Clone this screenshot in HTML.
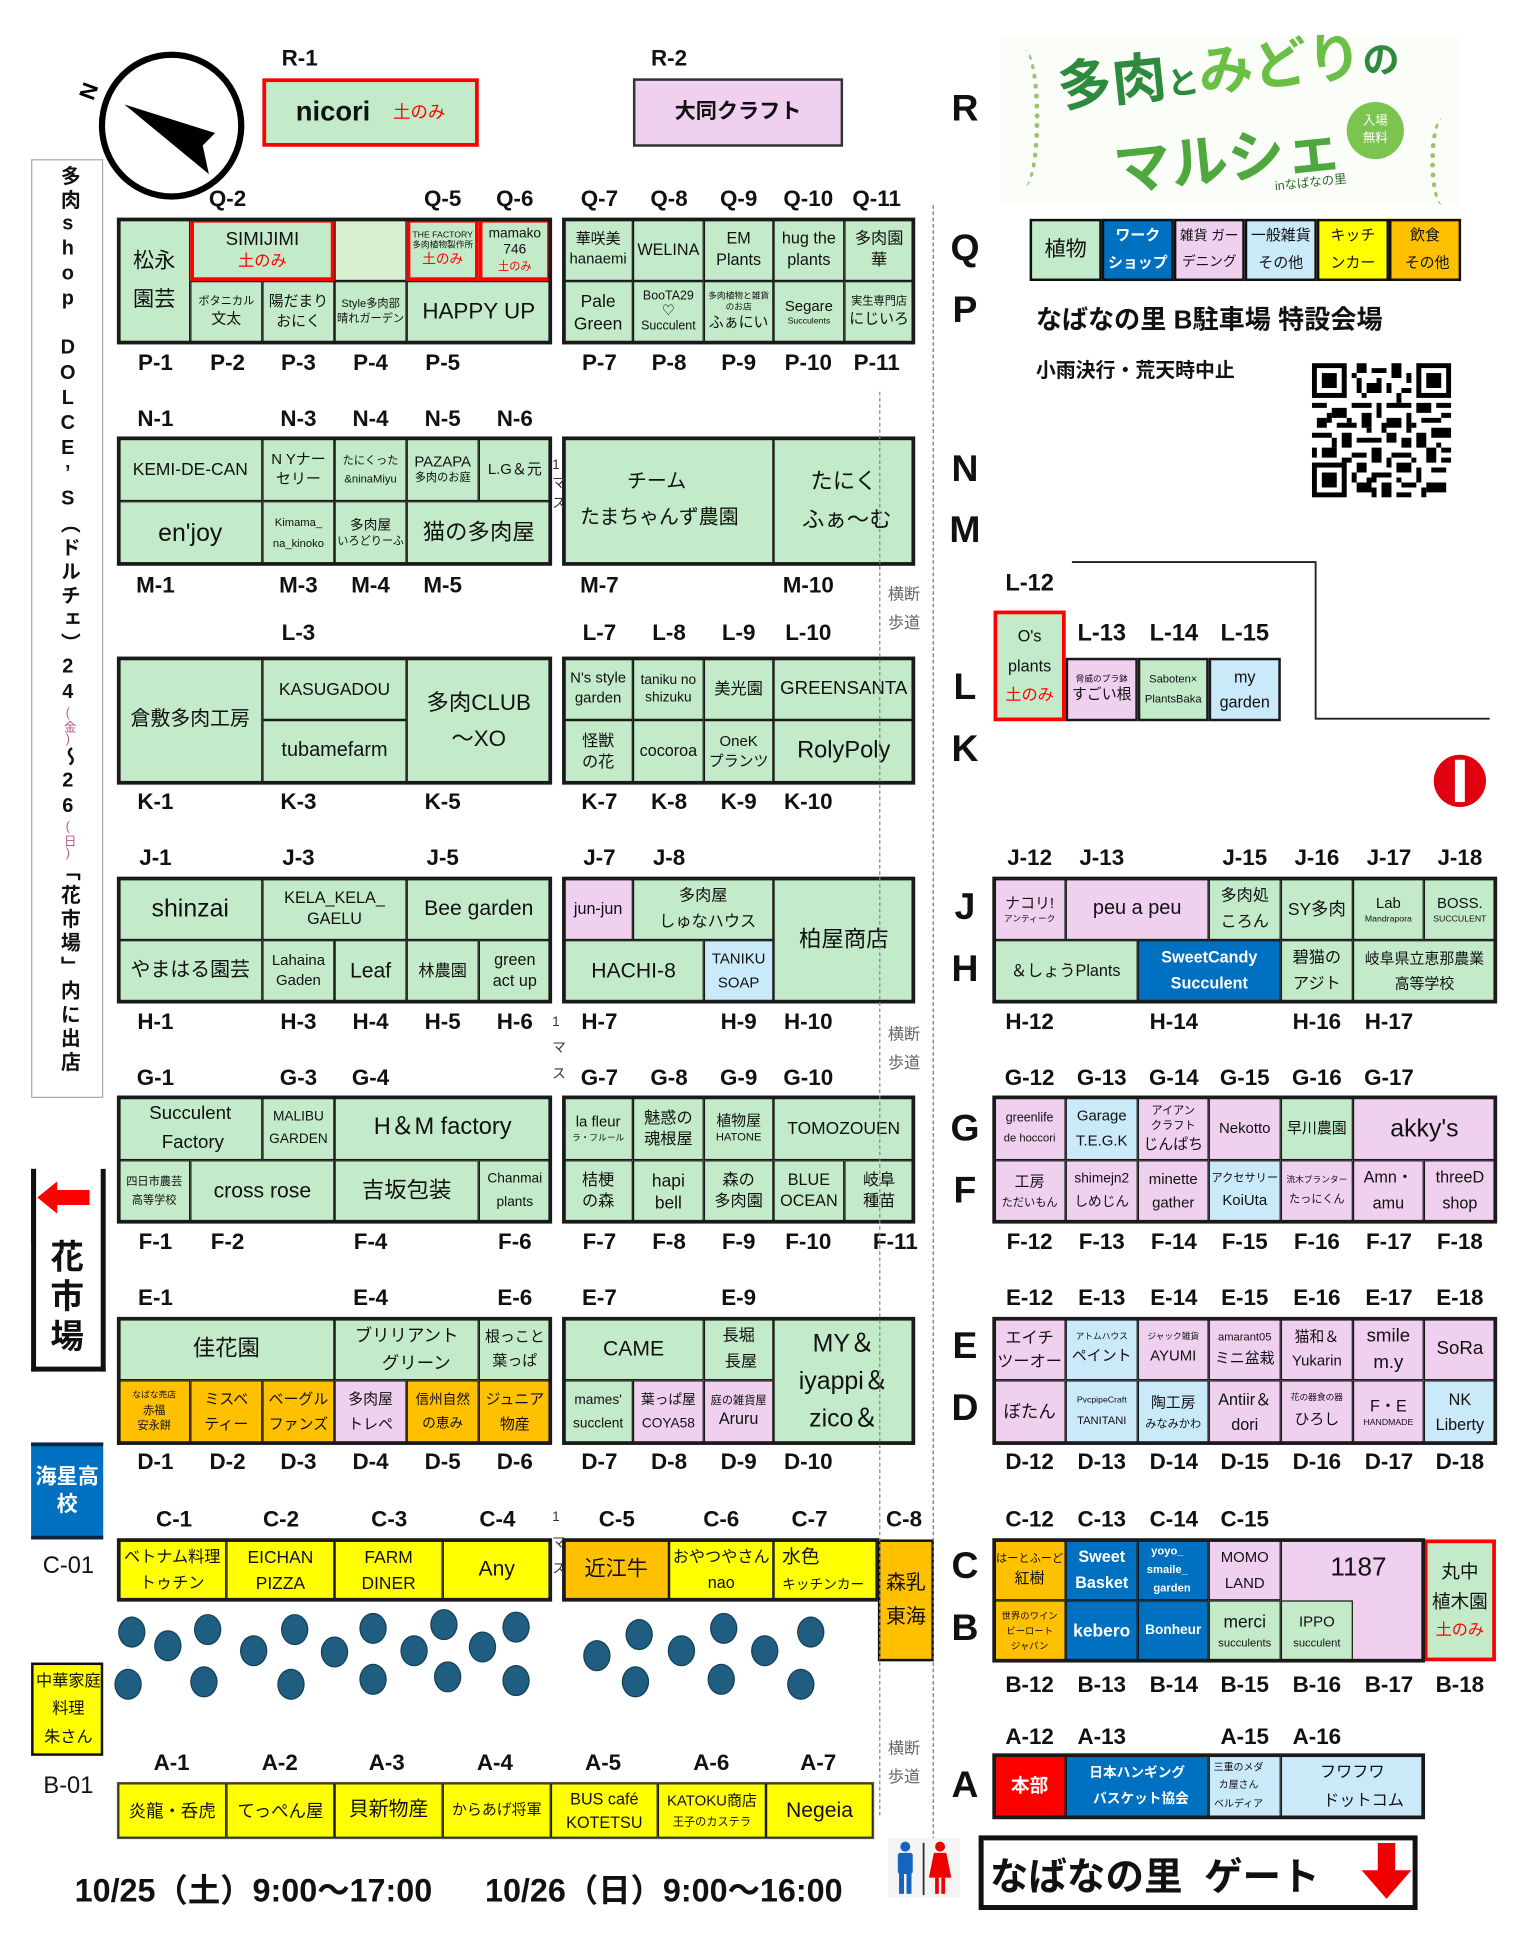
<!DOCTYPE html>
<html><head><meta charset="utf-8">
<style>
html,body{margin:0;padding:0;background:#fff;overflow:hidden;width:1532px;height:1954px}
#m{position:absolute;left:0;top:0;width:1232px;height:1572px;transform:scale(1.2435);transform-origin:0 0;font-family:"Liberation Sans","Noto Sans CJK JP",sans-serif;color:#111}
.c{position:absolute;box-sizing:border-box;border:1.5px solid #1a1a1a;display:flex;flex-direction:column;align-items:center;justify-content:center;text-align:center;line-height:1.3;font-size:14px;overflow:hidden;white-space:nowrap}
.g{background:#c3ebc9}.p{background:#f0d0ef}.b{background:#cae9f9}.u{background:#0070c0;color:#fff;font-weight:bold}.y{background:#ffff00}.o{background:#ffc000}.r{background:#ff0000;color:#fff;font-weight:bold}
.rb{border:3px solid #f00}
.blk{position:absolute;box-sizing:border-box;border:3px solid #1a1a1a}
.l{position:absolute;transform:translate(-50%,-50%);font-weight:bold;font-size:18px;white-space:nowrap}
.R{position:absolute;transform:translate(-50%,-50%);font-weight:bold;font-size:30px}
.s{font-size:9px}.s7{font-size:7px}.s11{font-size:11px}.s12{font-size:12px}
.red{color:#f00}
.b2{font-weight:bold}
.dot{position:absolute;width:22px;height:25px;border-radius:50%;background:#1f5e80;border:1px solid #153f57;box-sizing:border-box}
.gray{position:absolute;font-size:13px;color:#666;line-height:1.8}
.m1{position:absolute;font-size:11px;color:#333}
</style></head><body>
<div id="m">

<!-- compass -->
<svg style="position:absolute;left:60px;top:40px" width="140" height="125">
<ellipse cx="78" cy="61" rx="56" ry="57" fill="none" stroke="#000" stroke-width="5"/>
<polygon points="40,44 113,67 103,77 108,100" fill="#000"/>
<text x="4" y="38" font-size="18" font-weight="bold" font-family="Liberation Sans" transform="rotate(-70 12 32)">N</text>
</svg>

<!-- left vertical box -->
<div style="position:absolute;left:25px;top:128px;width:58px;height:755px;border:1px solid #aaa;box-sizing:border-box"></div>
<div style="position:absolute;left:40px;top:133px;writing-mode:vertical-rl;text-orientation:upright;font-size:16px;font-weight:bold;line-height:28px;letter-spacing:3.2px;white-space:nowrap">多肉shop　DOLCE’S（ドルチェ）24<span style="font-size:10px;font-weight:normal;color:#b58;letter-spacing:0">(金)</span>～26<span style="font-size:10px;font-weight:normal;color:#b58;letter-spacing:0">(日)</span>「花市場」内に出店</div>

<!-- 花市場 -->
<div style="position:absolute;left:25px;top:940px;width:60px;height:163px;border:4px solid #111;border-top:none;box-sizing:border-box"></div>
<div style="position:absolute;left:25px;top:940px;width:4px;height:60px;background:#111"></div>
<svg style="position:absolute;left:30px;top:948px" width="44" height="30"><polygon points="0,15 16,2 16,9 42,9 42,21 16,21 16,28" fill="#f00"/></svg>
<div style="position:absolute;left:36px;top:995px;width:36px;font-size:27px;font-weight:bold;line-height:32px;text-align:center">花<br>市<br>場</div>

<div class="c u" style="left:25px;top:1160px;width:58px;height:78px;font-size:17px;border:none;border-top:3px solid #124;border-bottom:3px solid #124">海星高<br>校</div>
<div class="l" style="left:55px;top:1260px;font-weight:normal;font-size:19px">C-01</div>
<div class="c y" style="left:25px;top:1337px;width:58px;height:75px;font-size:13px;align-items:flex-start;border:2px solid #111;padding-left:2px;line-height:1.7">中華家庭<br>料理<br>朱さん</div>
<div class="l" style="left:55px;top:1437px;font-weight:normal;font-size:19px">B-01</div>

<!-- R -->
<div class="l" style="left:241px;top:47px">R-1</div>
<div class="l" style="left:538px;top:47px">R-2</div>
<div class="c g" style="left:211px;top:63px;width:174px;height:55px;border:3px solid #f00;font-size:22px;flex-direction:row"><span class="b2">nicori</span>&nbsp;&nbsp;&nbsp;<span class="red" style="font-size:14px">土のみ</span></div>
<div class="c p" style="left:509px;top:63px;width:169px;height:55px;border:2px solid #333;font-size:17px"><span class="b2">大同クラフト</span></div>

<!-- Q/P left -->
<div class="l" style="left:183px;top:160px">Q-2</div><div class="l" style="left:356px;top:160px">Q-5</div><div class="l" style="left:414px;top:160px">Q-6</div>
<div class="c g" style="left:95px;top:176px;width:58px;height:100px;font-size:17px;line-height:1.8">松永<br>園芸</div>
<div class="c g rb" style="left:153px;top:176px;width:116px;height:50px;font-size:15px">SIMIJIMI<span class="red" style="font-size:13px">土のみ</span></div>
<div class="c" style="left:269px;top:176px;width:58px;height:50px;background:#d8f0d2"></div>
<div class="c g rb" style="left:327px;top:176px;width:58px;height:50px;line-height:1.2"><span class="s7">THE FACTORY</span><span class="s7">多肉植物製作所</span><span class="red s11">土のみ</span></div>
<div class="c g rb" style="left:385px;top:176px;width:58px;height:50px;font-size:11px;line-height:1.25">mamako<span>746</span><span class="red" style="font-size:9px">土のみ</span></div>
<div class="c g" style="left:153px;top:226px;width:58px;height:50px"><span class="s">ボタニカル</span><span class="s12">文太</span></div>
<div class="c g" style="left:211px;top:226px;width:58px;height:50px;font-size:12px">陽だまり<br>おにく</div>
<div class="c g" style="left:269px;top:226px;width:58px;height:50px;font-size:9px">Style多肉部<br>晴れガーデン</div>
<div class="c g" style="left:327px;top:226px;width:116px;height:50px;font-size:18px">HAPPY UP</div>
<div class="blk" style="left:94px;top:175px;width:350px;height:102px"></div>
<div class="l" style="left:125px;top:292px">P-1</div><div class="l" style="left:183px;top:292px">P-2</div><div class="l" style="left:240px;top:292px">P-3</div><div class="l" style="left:298px;top:292px">P-4</div><div class="l" style="left:356px;top:292px">P-5</div>

<!-- Q/P right -->
<div class="l" style="left:482px;top:160px">Q-7</div><div class="l" style="left:538px;top:160px">Q-8</div><div class="l" style="left:594px;top:160px">Q-9</div><div class="l" style="left:650px;top:160px">Q-10</div><div class="l" style="left:705px;top:160px">Q-11</div>
<div class="c g" style="left:453px;top:176px;width:56px;height:50px;font-size:12px">華咲美<br>hanaemi</div>
<div class="c g" style="left:509px;top:176px;width:57px;height:50px;font-size:13px">WELINA</div>
<div class="c g" style="left:566px;top:176px;width:56px;height:50px;font-size:13px">EM<br>Plants</div>
<div class="c g" style="left:622px;top:176px;width:57px;height:50px;font-size:13px">hug the<br>plants</div>
<div class="c g" style="left:679px;top:176px;width:56px;height:50px;font-size:13px">多肉園<br>華</div>
<div class="c g" style="left:453px;top:226px;width:56px;height:50px;font-size:14px">Pale<br>Green</div>
<div class="c g" style="left:509px;top:226px;width:57px;height:50px;font-size:10px;line-height:1.2">BooTA29<br>♡<br>Succulent</div>
<div class="c g" style="left:566px;top:226px;width:56px;height:50px;line-height:1.2"><span class="s7">多肉植物と雑貨</span><span class="s7">のお店</span><span class="s12">ふぁにい</span></div>
<div class="c g" style="left:622px;top:226px;width:57px;height:50px"><span class="s12">Segare</span><span class="s7">Succulents</span></div>
<div class="c g" style="left:679px;top:226px;width:56px;height:50px"><span class="s">実生専門店</span><span class="s12">にじいろ</span></div>
<div class="blk" style="left:452px;top:175px;width:284px;height:102px"></div>
<div class="l" style="left:482px;top:292px">P-7</div><div class="l" style="left:538px;top:292px">P-8</div><div class="l" style="left:594px;top:292px">P-9</div><div class="l" style="left:650px;top:292px">P-10</div><div class="l" style="left:705px;top:292px">P-11</div>

<!-- N/M -->
<div class="l" style="left:125px;top:337px">N-1</div><div class="l" style="left:240px;top:337px">N-3</div><div class="l" style="left:298px;top:337px">N-4</div><div class="l" style="left:356px;top:337px">N-5</div><div class="l" style="left:414px;top:337px">N-6</div>
<div class="c g" style="left:95px;top:352px;width:116px;height:51px;font-size:14px">KEMI-DE-CAN</div>
<div class="c g" style="left:211px;top:352px;width:58px;height:51px;font-size:12px">N Yナー<br>セリー</div>
<div class="c g" style="left:269px;top:352px;width:58px;height:51px;font-size:9px;line-height:1.6">たにくった<br>&amp;ninaMiyu</div>
<div class="c g" style="left:327px;top:352px;width:58px;height:51px"><span class="s12">PAZAPA</span><span class="s">多肉のお庭</span></div>
<div class="c g" style="left:385px;top:352px;width:58px;height:51px;font-size:12px">L.G＆元</div>
<div class="c g" style="left:95px;top:403px;width:116px;height:51px;font-size:20px">en'joy</div>
<div class="c g" style="left:211px;top:403px;width:58px;height:51px;font-size:9px;line-height:1.8">Kimama_<br>na_kinoko</div>
<div class="c g" style="left:269px;top:403px;width:58px;height:51px"><span class="s11">多肉屋</span><span class="s">いろどりーふ</span></div>
<div class="c g" style="left:327px;top:403px;width:116px;height:51px;font-size:18px">猫の多肉屋</div>
<div class="blk" style="left:94px;top:351px;width:350px;height:104px"></div>
<div class="c g" style="left:453px;top:352px;width:169px;height:102px;font-size:16px;align-items:flex-start;padding-left:8px;line-height:1.8">チーム<br>&nbsp;たまちゃんず農園</div>
<div class="c g" style="left:622px;top:352px;width:113px;height:102px;font-size:18px;line-height:1.7">たにく<br>&nbsp;ふぁ～む</div>
<div class="blk" style="left:452px;top:351px;width:284px;height:104px"></div>
<div class="l" style="left:125px;top:471px">M-1</div><div class="l" style="left:240px;top:471px">M-3</div><div class="l" style="left:298px;top:471px">M-4</div><div class="l" style="left:356px;top:471px">M-5</div><div class="l" style="left:482px;top:471px">M-7</div><div class="l" style="left:650px;top:471px">M-10</div>

<!-- L/K -->
<div class="l" style="left:240px;top:509px">L-3</div>
<div class="l" style="left:482px;top:509px">L-7</div><div class="l" style="left:538px;top:509px">L-8</div><div class="l" style="left:594px;top:509px">L-9</div><div class="l" style="left:650px;top:509px">L-10</div>
<div class="c g" style="left:95px;top:529px;width:116px;height:101px;font-size:16px">倉敷多肉工房</div>
<div class="c g" style="left:211px;top:529px;width:116px;height:50px;font-size:14px">KASUGADOU</div>
<div class="c g" style="left:211px;top:579px;width:116px;height:51px;font-size:16px">tubamefarm</div>
<div class="c g" style="left:327px;top:529px;width:116px;height:101px;font-size:18px;line-height:1.6">多肉CLUB<br>～XO</div>
<div class="blk" style="left:94px;top:528px;width:350px;height:103px"></div>
<div class="c g" style="left:453px;top:529px;width:56px;height:50px;font-size:12px">N's style<br>garden</div>
<div class="c g" style="left:509px;top:529px;width:57px;height:50px;font-size:11px">taniku no<br>shizuku</div>
<div class="c g" style="left:566px;top:529px;width:56px;height:50px;font-size:13px">美光園</div>
<div class="c g" style="left:622px;top:529px;width:113px;height:50px;font-size:15px">GREENSANTA</div>
<div class="c g" style="left:453px;top:579px;width:56px;height:51px;font-size:13px">怪獣<br>の花</div>
<div class="c g" style="left:509px;top:579px;width:57px;height:51px;font-size:13px">cocoroa</div>
<div class="c g" style="left:566px;top:579px;width:56px;height:51px;font-size:12px">OneK<br>プランツ</div>
<div class="c g" style="left:622px;top:579px;width:113px;height:51px;font-size:19px">RolyPoly</div>
<div class="blk" style="left:452px;top:528px;width:284px;height:103px"></div>
<div class="l" style="left:125px;top:645px">K-1</div><div class="l" style="left:240px;top:645px">K-3</div><div class="l" style="left:356px;top:645px">K-5</div>
<div class="l" style="left:482px;top:645px">K-7</div><div class="l" style="left:538px;top:645px">K-8</div><div class="l" style="left:594px;top:645px">K-9</div><div class="l" style="left:650px;top:645px">K-10</div>

<!-- J/H -->
<div class="l" style="left:125px;top:690px">J-1</div><div class="l" style="left:240px;top:690px">J-3</div><div class="l" style="left:356px;top:690px">J-5</div><div class="l" style="left:482px;top:690px">J-7</div><div class="l" style="left:538px;top:690px">J-8</div>
<div class="c g" style="left:95px;top:706px;width:116px;height:50px;font-size:20px">shinzai</div>
<div class="c g" style="left:211px;top:706px;width:116px;height:50px;font-size:13px">KELA_KELA_<br>GAELU</div>
<div class="c g" style="left:327px;top:706px;width:116px;height:50px;font-size:17px">Bee garden</div>
<div class="c g" style="left:95px;top:756px;width:116px;height:50px;font-size:16px">やまはる園芸</div>
<div class="c g" style="left:211px;top:756px;width:58px;height:50px;font-size:12px">Lahaina<br>Gaden</div>
<div class="c g" style="left:269px;top:756px;width:58px;height:50px;font-size:17px">Leaf</div>
<div class="c g" style="left:327px;top:756px;width:58px;height:50px;font-size:13px">林農園</div>
<div class="c g" style="left:385px;top:756px;width:58px;height:50px;font-size:13px">green<br>act up</div>
<div class="blk" style="left:94px;top:705px;width:350px;height:102px"></div>
<div class="c p" style="left:453px;top:706px;width:56px;height:50px;font-size:13px">jun-jun</div>
<div class="c g" style="left:509px;top:706px;width:113px;height:50px;font-size:13px;line-height:1.6">多肉屋<br>&nbsp;&nbsp;しゅなハウス</div>
<div class="c g" style="left:622px;top:706px;width:113px;height:100px;font-size:18px">柏屋商店</div>
<div class="c g" style="left:453px;top:756px;width:113px;height:50px;font-size:17px">HACHI-8</div>
<div class="c b" style="left:566px;top:756px;width:56px;height:50px;font-size:12px;line-height:1.6">TANIKU<br>SOAP</div>
<div class="blk" style="left:452px;top:705px;width:284px;height:102px"></div>
<div class="l" style="left:125px;top:822px">H-1</div><div class="l" style="left:240px;top:822px">H-3</div><div class="l" style="left:298px;top:822px">H-4</div><div class="l" style="left:356px;top:822px">H-5</div><div class="l" style="left:414px;top:822px">H-6</div>
<div class="l" style="left:482px;top:822px">H-7</div><div class="l" style="left:594px;top:822px">H-9</div><div class="l" style="left:650px;top:822px">H-10</div>

<!-- G/F -->
<div class="l" style="left:125px;top:867px">G-1</div><div class="l" style="left:240px;top:867px">G-3</div><div class="l" style="left:298px;top:867px">G-4</div>
<div class="l" style="left:482px;top:867px">G-7</div><div class="l" style="left:538px;top:867px">G-8</div><div class="l" style="left:594px;top:867px">G-9</div><div class="l" style="left:650px;top:867px">G-10</div>
<div class="c g" style="left:95px;top:882px;width:116px;height:51px;font-size:15px;line-height:1.5">Succulent<br>&nbsp;Factory</div>
<div class="c g" style="left:211px;top:882px;width:58px;height:51px;font-size:11px;line-height:1.6">MALIBU<br>GARDEN</div>
<div class="c g" style="left:269px;top:882px;width:174px;height:51px;font-size:19px">H＆M factory</div>
<div class="c g" style="left:95px;top:933px;width:58px;height:50px;font-size:9px;line-height:1.7">四日市農芸<br>高等学校</div>
<div class="c g" style="left:153px;top:933px;width:116px;height:50px;font-size:17px">cross rose</div>
<div class="c g" style="left:269px;top:933px;width:116px;height:50px;font-size:18px">吉坂包装</div>
<div class="c g" style="left:385px;top:933px;width:58px;height:50px;font-size:11px;line-height:1.7">Chanmai<br>plants</div>
<div class="blk" style="left:94px;top:881px;width:350px;height:103px"></div>
<div class="c g" style="left:453px;top:882px;width:56px;height:51px"><span class="s12">la fleur</span><span class="s7">ラ・フルール</span></div>
<div class="c g" style="left:509px;top:882px;width:57px;height:51px;font-size:13px">魅惑の<br>魂根屋</div>
<div class="c g" style="left:566px;top:882px;width:56px;height:51px"><span class="s12">植物屋</span><span class="s">HATONE</span></div>
<div class="c g" style="left:622px;top:882px;width:113px;height:51px;font-size:14px">TOMOZOUEN</div>
<div class="c g" style="left:453px;top:933px;width:56px;height:50px;font-size:13px">桔梗<br>の森</div>
<div class="c g" style="left:509px;top:933px;width:57px;height:50px;font-size:14px">hapi<br>bell</div>
<div class="c g" style="left:566px;top:933px;width:56px;height:50px;font-size:13px">森の<br>多肉園</div>
<div class="c g" style="left:622px;top:933px;width:57px;height:50px;font-size:13px">BLUE<br>OCEAN</div>
<div class="c g" style="left:679px;top:933px;width:56px;height:50px;font-size:13px">岐阜<br>種苗</div>
<div class="blk" style="left:452px;top:881px;width:284px;height:103px"></div>
<div class="l" style="left:125px;top:999px">F-1</div><div class="l" style="left:183px;top:999px">F-2</div><div class="l" style="left:298px;top:999px">F-4</div><div class="l" style="left:414px;top:999px">F-6</div>
<div class="l" style="left:482px;top:999px">F-7</div><div class="l" style="left:538px;top:999px">F-8</div><div class="l" style="left:594px;top:999px">F-9</div><div class="l" style="left:650px;top:999px">F-10</div><div class="l" style="left:720px;top:999px">F-11</div>

<!-- E/D -->
<div class="l" style="left:125px;top:1044px">E-1</div><div class="l" style="left:298px;top:1044px">E-4</div><div class="l" style="left:414px;top:1044px">E-6</div><div class="l" style="left:482px;top:1044px">E-7</div><div class="l" style="left:594px;top:1044px">E-9</div>
<div class="c g" style="left:95px;top:1060px;width:174px;height:50px;font-size:18px">佳花園</div>
<div class="c g" style="left:269px;top:1060px;width:116px;height:50px;font-size:14px;line-height:1.6">ブリリアント<br>&nbsp;&nbsp;&nbsp;&nbsp;グリーン</div>
<div class="c g" style="left:385px;top:1060px;width:58px;height:50px;font-size:12px;line-height:1.6">根っこと<br>葉っぱ</div>
<div class="c o" style="left:95px;top:1110px;width:58px;height:51px;line-height:1.4"><span class="s7">なばな売店</span><span class="s">赤福</span><span class="s">安永餅</span></div>
<div class="c o" style="left:153px;top:1110px;width:58px;height:51px;font-size:12px;line-height:1.6">ミスベ<br>ティー</div>
<div class="c o" style="left:211px;top:1110px;width:58px;height:51px;font-size:12px;line-height:1.6">ベーグル<br>ファンズ</div>
<div class="c p" style="left:269px;top:1110px;width:58px;height:51px;font-size:12px;line-height:1.6">多肉屋<br>トレペ</div>
<div class="c o" style="left:327px;top:1110px;width:58px;height:51px;font-size:11px;line-height:1.7">信州自然<br>の恵み</div>
<div class="c o" style="left:385px;top:1110px;width:58px;height:51px;font-size:12px;line-height:1.6">ジュニア<br>物産</div>
<div class="blk" style="left:94px;top:1059px;width:350px;height:103px"></div>
<div class="c g" style="left:453px;top:1060px;width:113px;height:50px;font-size:17px">CAME</div>
<div class="c g" style="left:566px;top:1060px;width:56px;height:50px;font-size:13px;line-height:1.6">長堀<br>&nbsp;長屋</div>
<div class="c g" style="left:622px;top:1060px;width:113px;height:101px;font-size:20px;line-height:1.5">MY＆<br>iyappi＆<br>zico＆</div>
<div class="c g" style="left:453px;top:1110px;width:56px;height:51px;font-size:11px;line-height:1.7">mames'<br>succlent</div>
<div class="c p" style="left:509px;top:1110px;width:57px;height:51px;font-size:11px;line-height:1.7">葉っぱ屋<br>COYA58</div>
<div class="c p" style="left:566px;top:1110px;width:56px;height:51px"><span class="s">庭の雑貨屋</span><span style="font-size:13px">Aruru</span></div>
<div class="blk" style="left:452px;top:1059px;width:284px;height:103px"></div>
<div class="l" style="left:125px;top:1176px">D-1</div><div class="l" style="left:183px;top:1176px">D-2</div><div class="l" style="left:240px;top:1176px">D-3</div><div class="l" style="left:298px;top:1176px">D-4</div><div class="l" style="left:356px;top:1176px">D-5</div><div class="l" style="left:414px;top:1176px">D-6</div>
<div class="l" style="left:482px;top:1176px">D-7</div><div class="l" style="left:538px;top:1176px">D-8</div><div class="l" style="left:594px;top:1176px">D-9</div><div class="l" style="left:650px;top:1176px">D-10</div>

<!-- C -->
<div class="l" style="left:140px;top:1222px">C-1</div><div class="l" style="left:226px;top:1222px">C-2</div><div class="l" style="left:313px;top:1222px">C-3</div><div class="l" style="left:400px;top:1222px">C-4</div>
<div class="l" style="left:496px;top:1222px">C-5</div><div class="l" style="left:580px;top:1222px">C-6</div><div class="l" style="left:651px;top:1222px">C-7</div><div class="l" style="left:727px;top:1222px">C-8</div>
<div class="c y" style="left:95px;top:1238px;width:87px;height:49px;font-size:13px;line-height:1.6">ベトナム料理<br>トゥチン</div>
<div class="c y" style="left:182px;top:1238px;width:87px;height:49px;font-size:14px;line-height:1.5">EICHAN<br>PIZZA</div>
<div class="c y" style="left:269px;top:1238px;width:87px;height:49px;font-size:14px;line-height:1.5">FARM<br>DINER</div>
<div class="c y" style="left:356px;top:1238px;width:87px;height:49px;font-size:17px">Any</div>
<div class="blk" style="left:94px;top:1237px;width:350px;height:51px"></div>
<div class="c o" style="left:453px;top:1238px;width:85px;height:49px;font-size:17px">近江牛</div>
<div class="c y" style="left:538px;top:1238px;width:84px;height:49px;font-size:13px;line-height:1.6">おやつやさん<br>nao</div>
<div class="c y" style="left:622px;top:1238px;width:84px;height:49px;font-size:11px;line-height:1.8;align-items:flex-start;padding-left:6px"><span style="font-size:15px">水色</span>キッチンカー</div>
<div class="blk" style="left:452px;top:1237px;width:255px;height:51px"></div>
<div class="c o" style="left:706px;top:1238px;width:45px;height:98px;font-size:16px;border:2.5px solid #111;line-height:1.7">森乳<br>東海</div>

<!-- dots -->
<div class="dot" style="left:95px;top:1300px"></div><div class="dot" style="left:124px;top:1311px"></div><div class="dot" style="left:156px;top:1298px"></div><div class="dot" style="left:92px;top:1342px"></div><div class="dot" style="left:153px;top:1340px"></div>
<div class="dot" style="left:193px;top:1315px"></div><div class="dot" style="left:226px;top:1298px"></div><div class="dot" style="left:223px;top:1342px"></div><div class="dot" style="left:258px;top:1316px"></div>
<div class="dot" style="left:289px;top:1297px"></div><div class="dot" style="left:289px;top:1338px"></div><div class="dot" style="left:322px;top:1315px"></div><div class="dot" style="left:346px;top:1294px"></div><div class="dot" style="left:349px;top:1336px"></div><div class="dot" style="left:377px;top:1312px"></div><div class="dot" style="left:404px;top:1296px"></div><div class="dot" style="left:404px;top:1339px"></div>
<div class="dot" style="left:469px;top:1319px"></div><div class="dot" style="left:503px;top:1302px"></div><div class="dot" style="left:500px;top:1340px"></div><div class="dot" style="left:537px;top:1315px"></div><div class="dot" style="left:571px;top:1297px"></div><div class="dot" style="left:569px;top:1338px"></div><div class="dot" style="left:604px;top:1315px"></div><div class="dot" style="left:641px;top:1300px"></div><div class="dot" style="left:633px;top:1342px"></div>

<!-- A -->
<div class="l" style="left:138px;top:1418px">A-1</div><div class="l" style="left:225px;top:1418px">A-2</div><div class="l" style="left:311px;top:1418px">A-3</div><div class="l" style="left:398px;top:1418px">A-4</div><div class="l" style="left:485px;top:1418px">A-5</div><div class="l" style="left:572px;top:1418px">A-6</div><div class="l" style="left:658px;top:1418px">A-7</div>
<div class="c y" style="left:95px;top:1434px;width:87px;height:44px;font-size:14px">炎龍・呑虎</div>
<div class="c y" style="left:182px;top:1434px;width:87px;height:44px;font-size:14px">てっぺん屋</div>
<div class="c y" style="left:269px;top:1434px;width:87px;height:44px;font-size:16px">貝新物産</div>
<div class="c y" style="left:356px;top:1434px;width:87px;height:44px;font-size:12px">からあげ将軍</div>
<div class="c y" style="left:443px;top:1434px;width:86px;height:44px;font-size:13px;line-height:1.5">BUS café<br>KOTETSU</div>
<div class="c y" style="left:529px;top:1434px;width:87px;height:44px;line-height:1.6"><span class="s12">KATOKU商店</span><span class="s">王子のカステラ</span></div>
<div class="c y" style="left:616px;top:1434px;width:86px;height:44px;font-size:17px">Negeia</div>
<div style="position:absolute;left:94px;top:1433px;width:609px;height:46px;border:1.5px solid #555;box-sizing:border-box"></div>

<!-- dashed lines -->
<div style="position:absolute;left:750px;top:165px;width:0;height:1325px;border-left:1.5px dashed #777"></div>
<div style="position:absolute;left:707px;top:315px;width:0;height:1145px;border-left:1.2px dashed #888"></div>
<div class="gray" style="left:714px;top:466px">横断<br>歩道</div>
<div class="gray" style="left:714px;top:820px">横断<br>歩道</div>
<div class="gray" style="left:714px;top:1394px">横断<br>歩道</div>
<div class="m1" style="left:444px;top:368px">1<br>マ<br>ス</div>
<div class="m1" style="left:444px;top:812px;line-height:1.9">1<br>マ<br>ス</div>
<div class="m1" style="left:444px;top:1210px;line-height:1.9">1<br>マ<br>ス</div>

<!-- Right side letters -->
<div class="R" style="left:776px;top:88px">R</div>
<div class="R" style="left:776px;top:200px">Q</div>
<div class="R" style="left:776px;top:250px">P</div>
<div class="R" style="left:776px;top:378px">N</div>
<div class="R" style="left:776px;top:427px">M</div>
<div class="R" style="left:776px;top:553px">L</div>
<div class="R" style="left:776px;top:603px">K</div>
<div class="R" style="left:776px;top:730px">J</div>
<div class="R" style="left:776px;top:780px">H</div>
<div class="R" style="left:776px;top:908px">G</div>
<div class="R" style="left:776px;top:958px">F</div>
<div class="R" style="left:776px;top:1083px">E</div>
<div class="R" style="left:776px;top:1133px">D</div>
<div class="R" style="left:776px;top:1260px">C</div>
<div class="R" style="left:776px;top:1310px">B</div>
<div class="R" style="left:776px;top:1436px">A</div>

<!-- logo -->
<div style="position:absolute;left:805px;top:30px;width:370px;height:135px;background:#fbfdf8"></div>
<div style="position:absolute;left:850px;top:35px;font-size:44px;font-weight:bold;color:#2e8b3e;white-space:nowrap;transform:rotate(-6deg);transform-origin:left">多肉<span style="font-size:26px">と</span><span style="color:#6abf45">みどり</span><span style="font-size:30px">の</span></div>
<div style="position:absolute;left:895px;top:92px;font-size:46px;font-weight:bold;color:#4fa83d;white-space:nowrap;transform:rotate(-6deg)">マルシェ</div>
<div style="position:absolute;left:1083px;top:82px;width:46px;height:46px;border-radius:50%;background:#7bc44f;color:#fff;font-size:10px;text-align:center;line-height:14px;padding-top:9px;box-sizing:border-box">入場<br>無料</div>
<div style="position:absolute;left:1025px;top:138px;font-size:10px;color:#2e6b2e;transform:rotate(-6deg)">inなばなの里</div>
<div style="position:absolute;left:812px;top:40px;width:20px;height:110px;border-right:4px dotted #9bc46a;border-radius:50%"></div>
<div style="position:absolute;left:1150px;top:95px;width:16px;height:70px;border-left:4px dotted #9bc46a;border-radius:50%"></div>

<!-- legend -->
<div class="c g" style="left:828px;top:176px;width:58px;height:50px;font-size:17px;border:2px solid #111">植物</div>
<div class="c u" style="left:886px;top:176px;width:58px;height:50px;font-size:12px;border:2px solid #111;line-height:1.8">ワーク<br>ショップ</div>
<div class="c p" style="left:944px;top:176px;width:57px;height:50px;font-size:11px;border:2px solid #111;line-height:1.9">雑貨 ガー<br>デニング</div>
<div class="c b" style="left:1001px;top:176px;width:58px;height:50px;font-size:12px;border:2px solid #111;line-height:1.8">一般雑貨<br>その他</div>
<div class="c y" style="left:1059px;top:176px;width:58px;height:50px;font-size:12px;border:2px solid #111;line-height:1.8">キッチ<br>ンカー</div>
<div class="c o" style="left:1117px;top:176px;width:58px;height:50px;font-size:12px;border:2px solid #111;line-height:1.8">飲食<br>&nbsp;その他</div>
<div style="position:absolute;left:833px;top:241px;font-size:21px;font-weight:bold;white-space:nowrap">なばなの里 B駐車場 特設会場</div>
<div style="position:absolute;left:833px;top:284px;font-size:16px;font-weight:bold;white-space:nowrap">小雨決行・荒天時中止</div>
<!-- QR -->
<svg style="position:absolute;left:1055px;top:292px" width="112" height="108" viewBox="0 0 28 27">
<rect width="28" height="27" fill="#fff"/>
<g fill="#000">
<rect x="0" y="0" width="7" height="7"/><rect x="1" y="1" width="5" height="5" fill="#fff"/><rect x="2" y="2" width="3" height="3"/>
<rect x="21" y="0" width="7" height="7"/><rect x="22" y="1" width="5" height="5" fill="#fff"/><rect x="23" y="2" width="3" height="3"/>
<rect x="0" y="20" width="7" height="7"/><rect x="1" y="21" width="5" height="5" fill="#fff"/><rect x="2" y="22" width="3" height="3"/>
<path d="M9 0h2v2h-2zM12 1h3v1h-3zM16 0h2v3h-2zM9 3h1v3h-1zM11 4h3v2h-3zM15 4h1v2h-1zM18 5h2v1h-2zM0 8h3v1h-3zM4 9h3v2h-3zM8 8h4v1h-4zM13 8h1v3h-1zM15 8h5v1h-5zM21 8h3v2h-3zM25 8h3v1h-3zM1 11h2v2h-2zM5 12h4v1h-4zM10 10h2v3h-2zM15 11h3v2h-3zM19 10h1v4h-1zM22 11h4v1h-4zM0 14h4v1h-4zM6 14h2v3h-2zM9 15h5v1h-5zM15 14h2v2h-2zM21 14h2v3h-2zM24 13h4v2h-4zM2 17h3v2h-3zM8 18h3v1h-3zM12 17h2v3h-2zM16 18h4v1h-4zM23 17h2v3h-2zM26 17h2v1h-2zM9 20h2v2h-2zM12 22h4v1h-4zM17 20h3v2h-3zM21 21h1v3h-1zM24 21h3v1h-3zM9 24h3v2h-3zM14 24h2v3h-2zM18 24h3v1h-3zM23 24h4v2h-4zM17 26h3v1h-3z"/>
<path d="M8 2h1v1h-1zM13 3h1v1h-1zM19 2h1v2h-1zM10 6h1v1h-1zM17 6h1v2h-1zM3 10h1v2h-1zM7 11h1v1h-1zM14 12h1v2h-1zM20 12h1v1h-1zM26 10h2v1h-2zM4 15h1v2h-1zM11 13h1v1h-1zM18 15h2v2h-2zM25 16h1v1h-1zM0 17h1v2h-1zM6 19h2v1h-2zM15 19h1v2h-1zM20 19h1v1h-1zM26 19h2v1h-2zM8 22h1v2h-1zM11 23h2v1h-2zM17 23h1v1h-1zM22 25h1v2h-1zM12 25h1v2h-1z"/>
</g></svg>

<!-- L right -->
<svg style="position:absolute;left:858px;top:448px" width="345" height="135"><polyline points="4,4 200,4 200,130 340,130" fill="none" stroke="#222" stroke-width="1.5"/></svg>
<div class="l" style="left:828px;top:470px;font-size:19px">L-12</div>
<div class="l" style="left:886px;top:510px;font-size:19px">L-13</div><div class="l" style="left:944px;top:510px;font-size:19px">L-14</div><div class="l" style="left:1001px;top:510px;font-size:19px">L-15</div>
<div class="c g" style="left:799px;top:491px;width:58px;height:89px;border:3px solid #f00;font-size:13px;line-height:1.8">O's<br>plants<span class="red" style="font-size:13px">土のみ</span></div>
<div class="c p" style="left:857px;top:529px;width:58px;height:51px;border-width:2px"><span class="s7">脅威のプラ鉢</span><span class="s12">すごい根</span></div>
<div class="c g" style="left:915px;top:529px;width:57px;height:51px;font-size:9px;line-height:1.7;border-width:2px">Saboten×<br>PlantsBaka</div>
<div class="c b" style="left:972px;top:529px;width:58px;height:51px;font-size:13px;line-height:1.5;border-width:2px">my<br>garden</div>
<!-- no entry -->
<div style="position:absolute;left:1153px;top:607px;width:42px;height:42px;border-radius:50%;background:#e00010"></div>
<div style="position:absolute;left:1170px;top:611px;width:8px;height:34px;background:#fff"></div>

<!-- J/H right -->
<div class="l" style="left:828px;top:690px">J-12</div><div class="l" style="left:886px;top:690px">J-13</div><div class="l" style="left:1001px;top:690px">J-15</div><div class="l" style="left:1059px;top:690px">J-16</div><div class="l" style="left:1117px;top:690px">J-17</div><div class="l" style="left:1174px;top:690px">J-18</div>
<div class="c p" style="left:799px;top:706px;width:58px;height:50px;line-height:1.5"><span class="s12">ナコリ!</span><span class="s7">アンティーク</span></div>
<div class="c p" style="left:857px;top:706px;width:115px;height:50px;font-size:16px">peu a peu</div>
<div class="c g" style="left:972px;top:706px;width:58px;height:50px;font-size:13px;line-height:1.6">多肉処<br>ころん</div>
<div class="c g" style="left:1030px;top:706px;width:58px;height:50px;font-size:14px">SY多肉</div>
<div class="c g" style="left:1088px;top:706px;width:57px;height:50px;line-height:1.5"><span class="s12">Lab</span><span class="s7">Mandrapora</span></div>
<div class="c g" style="left:1145px;top:706px;width:58px;height:50px;line-height:1.5"><span class="s12">BOSS.</span><span class="s7">SUCCULENT</span></div>
<div class="c g" style="left:799px;top:756px;width:116px;height:50px;font-size:13px">＆しょうPlants</div>
<div class="c u" style="left:915px;top:756px;width:115px;height:50px;font-size:13px;line-height:1.6">SweetCandy<br>Succulent</div>
<div class="c g" style="left:1030px;top:756px;width:58px;height:50px;font-size:13px;line-height:1.6">碧猫の<br>アジト</div>
<div class="c g" style="left:1088px;top:756px;width:115px;height:50px;font-size:12px;line-height:1.7">岐阜県立恵那農業<br>高等学校</div>
<div class="blk" style="left:798px;top:705px;width:406px;height:102px"></div>
<div class="l" style="left:828px;top:822px">H-12</div><div class="l" style="left:944px;top:822px">H-14</div><div class="l" style="left:1059px;top:822px">H-16</div><div class="l" style="left:1117px;top:822px">H-17</div>

<!-- G/F right -->
<div class="l" style="left:828px;top:867px">G-12</div><div class="l" style="left:886px;top:867px">G-13</div><div class="l" style="left:944px;top:867px">G-14</div><div class="l" style="left:1001px;top:867px">G-15</div><div class="l" style="left:1059px;top:867px">G-16</div><div class="l" style="left:1117px;top:867px">G-17</div>
<div class="c p" style="left:799px;top:882px;width:58px;height:51px;font-size:10px;line-height:1.7">greenlife<br><span class="s">de hoccori</span></div>
<div class="c b" style="left:857px;top:882px;width:58px;height:51px;font-size:12px;line-height:1.6">Garage<br>T.E.G.K</div>
<div class="c p" style="left:915px;top:882px;width:57px;height:51px;font-size:9px;line-height:1.4">アイアン<br>クラフト<br><span class="s12">じんぱち</span></div>
<div class="c p" style="left:972px;top:882px;width:58px;height:51px;font-size:12px">Nekotto</div>
<div class="c g" style="left:1030px;top:882px;width:58px;height:51px;font-size:12px">早川農園</div>
<div class="c p" style="left:1088px;top:882px;width:115px;height:51px;font-size:20px">akky's</div>
<div class="c p" style="left:799px;top:933px;width:58px;height:50px;line-height:1.6"><span class="s12">工房</span><span class="s">ただいもん</span></div>
<div class="c p" style="left:857px;top:933px;width:58px;height:50px;font-size:11px;line-height:1.7">shimejn2<br>しめじん</div>
<div class="c p" style="left:915px;top:933px;width:57px;height:50px;font-size:12px;line-height:1.6">minette<br>gather</div>
<div class="c b" style="left:972px;top:933px;width:58px;height:50px;line-height:1.8"><span class="s">アクセサリー</span><span class="s12">KoiUta</span></div>
<div class="c p" style="left:1030px;top:933px;width:58px;height:50px;line-height:1.8"><span class="s7">流木プランター</span><span class="s">たっにくん</span></div>
<div class="c p" style="left:1088px;top:933px;width:57px;height:50px;font-size:13px;line-height:1.6">Amn・<br>amu</div>
<div class="c p" style="left:1145px;top:933px;width:58px;height:50px;font-size:13px;line-height:1.6">threeD<br>shop</div>
<div class="blk" style="left:798px;top:881px;width:406px;height:103px"></div>
<div class="l" style="left:828px;top:999px">F-12</div><div class="l" style="left:886px;top:999px">F-13</div><div class="l" style="left:944px;top:999px">F-14</div><div class="l" style="left:1001px;top:999px">F-15</div><div class="l" style="left:1059px;top:999px">F-16</div><div class="l" style="left:1117px;top:999px">F-17</div><div class="l" style="left:1174px;top:999px">F-18</div>

<!-- E/D right -->
<div class="l" style="left:828px;top:1044px">E-12</div><div class="l" style="left:886px;top:1044px">E-13</div><div class="l" style="left:944px;top:1044px">E-14</div><div class="l" style="left:1001px;top:1044px">E-15</div><div class="l" style="left:1059px;top:1044px">E-16</div><div class="l" style="left:1117px;top:1044px">E-17</div><div class="l" style="left:1174px;top:1044px">E-18</div>
<div class="c p" style="left:799px;top:1060px;width:58px;height:50px;font-size:13px;line-height:1.5">エイチ<br>ツーオー</div>
<div class="c b" style="left:857px;top:1060px;width:58px;height:50px;line-height:1.6"><span class="s7">アトムハウス</span><span class="s12">ペイント</span></div>
<div class="c p" style="left:915px;top:1060px;width:57px;height:50px;line-height:1.6"><span class="s7">ジャック雑貨</span><span class="s12">AYUMI</span></div>
<div class="c p" style="left:972px;top:1060px;width:58px;height:50px;line-height:1.6"><span class="s">amarant05</span><span class="s12">ミニ盆栽</span></div>
<div class="c p" style="left:1030px;top:1060px;width:58px;height:50px;font-size:12px;line-height:1.6">猫和＆<br>Yukarin</div>
<div class="c p" style="left:1088px;top:1060px;width:57px;height:50px;font-size:15px;line-height:1.4">smile<br>m.y</div>
<div class="c p" style="left:1145px;top:1060px;width:58px;height:50px;font-size:15px">SoRa</div>
<div class="c p" style="left:799px;top:1110px;width:58px;height:51px;font-size:14px">ぼたん</div>
<div class="c b" style="left:857px;top:1110px;width:58px;height:51px;line-height:1.9"><span class="s7">PvcpipeCraft</span><span class="s">TANITANI</span></div>
<div class="c b" style="left:915px;top:1110px;width:57px;height:51px;line-height:1.6"><span class="s12">陶工房</span><span class="s">みなみかわ</span></div>
<div class="c p" style="left:972px;top:1110px;width:58px;height:51px;font-size:13px;line-height:1.5">Antiir＆<br>dori</div>
<div class="c p" style="left:1030px;top:1110px;width:58px;height:51px;line-height:1.7"><span class="s7">花の器食の器</span><span class="s12">ひろし</span></div>
<div class="c p" style="left:1088px;top:1110px;width:57px;height:51px;line-height:1.4"><span style="font-size:13px">F・E</span><span class="s7">HANDMADE</span></div>
<div class="c b" style="left:1145px;top:1110px;width:58px;height:51px;font-size:13px;line-height:1.5">NK<br>Liberty</div>
<div class="blk" style="left:798px;top:1059px;width:406px;height:103px"></div>
<div class="l" style="left:828px;top:1176px">D-12</div><div class="l" style="left:886px;top:1176px">D-13</div><div class="l" style="left:944px;top:1176px">D-14</div><div class="l" style="left:1001px;top:1176px">D-15</div><div class="l" style="left:1059px;top:1176px">D-16</div><div class="l" style="left:1117px;top:1176px">D-17</div><div class="l" style="left:1174px;top:1176px">D-18</div>

<!-- C/B right -->
<div class="l" style="left:828px;top:1222px">C-12</div><div class="l" style="left:886px;top:1222px">C-13</div><div class="l" style="left:944px;top:1222px">C-14</div><div class="l" style="left:1001px;top:1222px">C-15</div>
<div class="c o" style="left:799px;top:1238px;width:58px;height:49px;line-height:1.5"><span class="s">はーとふーど</span><span class="s12">紅樹</span></div>
<div class="c u" style="left:857px;top:1238px;width:58px;height:49px;font-size:13px;line-height:1.6">Sweet<br>Basket</div>
<div class="c u" style="left:915px;top:1238px;width:57px;height:49px;font-size:9px;line-height:1.7;align-items:flex-start;padding-left:4px">yoyo_<br>smaile_<br>&nbsp;&nbsp;&nbsp;garden</div>
<div class="c p" style="left:972px;top:1238px;width:58px;height:49px;font-size:12px;line-height:1.7">MOMO<br>LAND</div>
<div class="c p" style="left:1030px;top:1238px;width:115px;height:98px;font-size:21px;justify-content:flex-start;padding-top:8px;padding-left:10px">1187</div>
<div class="c g" style="left:1145px;top:1238px;width:58px;height:98px;border:3px solid #f00;font-size:15px;line-height:1.6">丸中<br>植木園<span class="red" style="font-size:13px">土のみ</span></div>
<div class="c o" style="left:799px;top:1287px;width:58px;height:49px;font-size:7.5px;line-height:1.6">世界のワイン<br>ビーロート<br>ジャパン</div>
<div class="c u" style="left:857px;top:1287px;width:58px;height:49px;font-size:14px">kebero</div>
<div class="c u" style="left:915px;top:1287px;width:57px;height:49px;font-size:11px">Bonheur</div>
<div class="c g" style="left:972px;top:1287px;width:58px;height:49px;line-height:1.5"><span style="font-size:14px">merci</span><span class="s">succulents</span></div>
<div class="c g" style="left:1030px;top:1287px;width:58px;height:49px;line-height:1.7"><span class="s12">IPPO</span><span class="s">succulent</span></div>
<div class="blk" style="left:798px;top:1237px;width:348px;height:100px"></div>
<div class="l" style="left:828px;top:1355px">B-12</div><div class="l" style="left:886px;top:1355px">B-13</div><div class="l" style="left:944px;top:1355px">B-14</div><div class="l" style="left:1001px;top:1355px">B-15</div><div class="l" style="left:1059px;top:1355px">B-16</div><div class="l" style="left:1117px;top:1355px">B-17</div><div class="l" style="left:1174px;top:1355px">B-18</div>

<!-- A right -->
<div class="l" style="left:828px;top:1397px">A-12</div><div class="l" style="left:886px;top:1397px">A-13</div><div class="l" style="left:1001px;top:1397px">A-15</div><div class="l" style="left:1059px;top:1397px">A-16</div>
<div class="c r" style="left:799px;top:1411px;width:58px;height:51px;font-size:15px">本部</div>
<div class="c u" style="left:857px;top:1411px;width:115px;height:51px;font-size:11px;line-height:1.9">日本ハンギング<br>&nbsp;&nbsp;バスケット協会</div>
<div class="c b" style="left:972px;top:1411px;width:58px;height:51px;font-size:8px;line-height:1.8;align-items:flex-start;padding-left:3px">三重のメダ<br>カ屋さん<br>ベルディア</div>
<div class="c b" style="left:1030px;top:1411px;width:115px;height:51px;font-size:13px;line-height:1.7">フワフワ<br>&nbsp;&nbsp;&nbsp;&nbsp;&nbsp;ドットコム</div>
<div class="blk" style="left:798px;top:1410px;width:348px;height:53px"></div>

<!-- restroom -->
<svg style="position:absolute;left:714px;top:1478px" width="58" height="48">
<rect width="58" height="48" fill="#f4f4f4"/>
<circle cx="14" cy="7" r="4" fill="#1565c0"/><rect x="8" y="12" width="12" height="17" rx="2" fill="#1565c0"/><rect x="9" y="28" width="4" height="17" fill="#1565c0"/><rect x="15" y="28" width="4" height="17" fill="#1565c0"/>
<rect x="28" y="4" width="1.5" height="42" fill="#333"/>
<circle cx="42" cy="7" r="4" fill="#e00"/><polygon points="37,12 47,12 51,32 33,32" fill="#e00"/><rect x="38" y="32" width="3" height="13" fill="#e00"/><rect x="43" y="32" width="3" height="13" fill="#e00"/>
</svg>

<!-- gate -->
<div style="position:absolute;left:787px;top:1476px;width:353px;height:60px;border:4px solid #111;box-sizing:border-box"></div>
<div style="position:absolute;left:796px;top:1484px;font-size:31px;font-weight:bold;white-space:nowrap">なばなの里&nbsp; ゲート</div>
<svg style="position:absolute;left:1093px;top:1482px" width="44" height="46"><polygon points="15,0 29,0 29,22 42,22 22,45 2,22 15,22" fill="#e00"/></svg>

<!-- dates -->
<div style="position:absolute;left:60px;top:1500px;font-size:26px;font-weight:bold;white-space:nowrap">10/25（土）9:00～17:00</div>
<div style="position:absolute;left:390px;top:1500px;font-size:26px;font-weight:bold;white-space:nowrap">10/26（日）9:00～16:00</div>

</div>
</body></html>
